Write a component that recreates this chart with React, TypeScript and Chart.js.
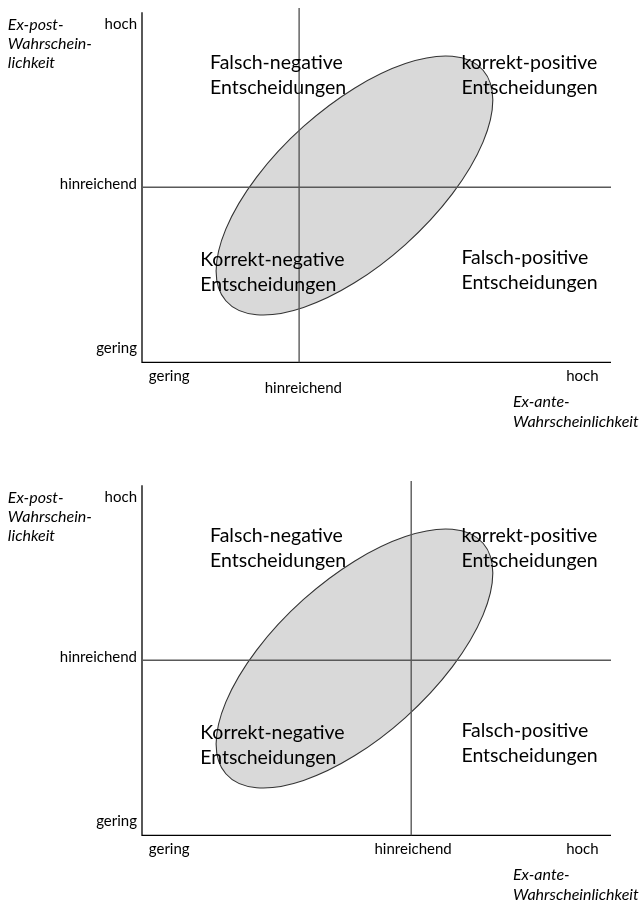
import React, { useEffect, useRef } from 'react';
import { Chart, registerables } from 'chart.js';

Chart.register(...registerables);

// ---- data (in diagram units: 0 = "gering", 10 = "hoch") ----
const AXIS_MIN = 0;
const AXIS_MAX = 10;
const PLOT_TOP = 10.12;
const THRESHOLD_X = [3.35, 5.74]; // Ex-ante "hinreichend" per panel
const THRESHOLD_Y = [5.0, 5.0]; // Ex-post "hinreichend" per panel

const Y_TICK_LABELS = ['gering', 'hinreichend', 'hoch'];
const Y_TICK_VALUES = [0.4, 5.1, 9.67];
const X_TICK_LABELS = ['gering', 'hinreichend', 'hoch'];
const X_TICK_VALUES_P1 = [0.58, 3.44, 9.39];
const X_TICK_VALUES_P2 = [0.58, 5.78, 9.39];
const X_TICK_ROWS_P1 = [-0.41, -0.73, -0.41];
const X_TICK_ROWS_P2 = [-0.41, -0.41, -0.41];

const Y_TITLE = ['Ex-post-', 'Wahrschein-', 'lichkeit'];
const Y_TITLE_ANCHOR = [-2.86, 9.64];
const X_TITLE = ['Ex-ante-', 'Wahrscheinlichkeit'];
const X_TITLE_ANCHOR = [7.91, -1.13];

const QUADRANT_LABELS = [
  ['Falsch-negative', 'Entscheidungen'],
  ['korrekt-positive', 'Entscheidungen'],
  ['Korrekt-negative', 'Entscheidungen'],
  ['Falsch-positive', 'Entscheidungen'],
];
const QUADRANT_ANCHORS = [
  [1.45, 8.55],
  [6.81, 8.55],
  [1.24, 2.92],
  [6.81, 2.98],
];

const ELLIPSE_CENTER = [4.53, 5.05];
const ELLIPSE_CONJ_A = [2.95, 2.44];
const ELLIPSE_CONJ_B = [0, 2.78];

const FONT = 'Lato, "Open Sans", sans-serif';

const diagramPlugin = {
  id: 'diagram',
  beforeDatasetsDraw(chart: any) {
    const { ctx } = chart;
    const xs = chart.scales.x;
    const ys = chart.scales.y;
    const cx = xs.getPixelForValue(ELLIPSE_CENTER[0]);
    const cy = ys.getPixelForValue(ELLIPSE_CENTER[1]);
    const ax = xs.getPixelForValue(ELLIPSE_CENTER[0] + ELLIPSE_CONJ_A[0]) - cx;
    const ay = ys.getPixelForValue(ELLIPSE_CENTER[1] + ELLIPSE_CONJ_A[1]) - cy;
    const bx = xs.getPixelForValue(ELLIPSE_CENTER[0] + ELLIPSE_CONJ_B[0]) - cx;
    const by = ys.getPixelForValue(ELLIPSE_CENTER[1] + ELLIPSE_CONJ_B[1]) - cy;
    ctx.save();
    ctx.transform(ax, ay, bx, by, cx, cy);
    ctx.beginPath();
    ctx.arc(0, 0, 1, 0, Math.PI * 2);
    ctx.restore();
    ctx.save();
    ctx.fillStyle = '#d9d9d9';
    ctx.fill();
    ctx.lineWidth = 1.1;
    ctx.strokeStyle = '#333333';
    ctx.stroke();
    ctx.restore();
  },
  afterDatasetsDraw(chart: any, _args: any, opts: any) {
    const { ctx } = chart;
    const xs = chart.scales.x;
    const ys = chart.scales.y;
    const px = (v: number) => xs.getPixelForValue(v);
    const py = (v: number) => ys.getPixelForValue(v);
    ctx.save();
    ctx.fillStyle = '#000';
    ctx.textBaseline = 'middle';

    // quadrant labels
    ctx.font = `19.5px ${FONT}`;
    ctx.textAlign = 'left';
    QUADRANT_LABELS.forEach((lines, i) => {
      const x = px(QUADRANT_ANCHORS[i][0]);
      const y = py(QUADRANT_ANCHORS[i][1]);
      lines.forEach((t, j) => ctx.fillText(t, x, y + j * 25));
    });

    // y tick labels
    ctx.font = `15px ${FONT}`;
    ctx.textAlign = 'right';
    Y_TICK_LABELS.forEach((t, i) => {
      ctx.fillText(t, px(AXIS_MIN) - 5, py(Y_TICK_VALUES[i]));
    });

    // x tick labels
    ctx.textAlign = 'center';
    X_TICK_LABELS.forEach((t, i) => {
      ctx.fillText(t, px(opts.xTicks[i]), py(opts.xRows[i]));
    });

    // axis titles
    ctx.font = `italic 16px ${FONT}`;
    ctx.textAlign = 'left';
    Y_TITLE.forEach((t, j) => {
      ctx.fillText(t, px(Y_TITLE_ANCHOR[0]), py(Y_TITLE_ANCHOR[1]) + j * 19);
    });
    X_TITLE.forEach((t, j) => {
      ctx.fillText(t, px(X_TITLE_ANCHOR[0]), py(X_TITLE_ANCHOR[1]) + j * 20);
    });
    ctx.restore();
  },
};

function Panel({ idx, height }: { idx: number; height: number }) {
  const ref = useRef<HTMLCanvasElement | null>(null);
  useEffect(() => {
    if (!ref.current) return;
    const tx = THRESHOLD_X[idx];
    const ty = THRESHOLD_Y[idx];
    const chart = new Chart(ref.current, {
      type: 'scatter',
      data: {
        datasets: [
          {
            data: [
              { x: AXIS_MIN, y: ty },
              { x: AXIS_MAX, y: ty },
            ],
            showLine: true,
            borderColor: '#595959',
            borderWidth: 1.4,
            pointRadius: 0,
            clip: false,
          } as any,
          {
            data: [
              { x: tx, y: AXIS_MIN },
              { x: tx, y: PLOT_TOP },
            ],
            showLine: true,
            borderColor: '#595959',
            borderWidth: 1.4,
            pointRadius: 0,
            clip: false,
          },
          {
            data: [
              { x: AXIS_MIN, y: AXIS_MAX },
              { x: AXIS_MIN, y: AXIS_MIN },
              { x: AXIS_MAX, y: AXIS_MIN },
            ],
            showLine: true,
            borderColor: '#000000',
            borderWidth: 1.3,
            pointRadius: 0,
            clip: false,
          },
        ],
      },
      options: {
        responsive: false,
        animation: false,
        events: [],
        layout: {
          padding: { left: 142, right: 30, top: 8, bottom: height - 362.3 },
        },
        scales: {
          x: { type: 'linear', min: AXIS_MIN, max: AXIS_MAX, display: false },
          y: { type: 'linear', min: AXIS_MIN, max: PLOT_TOP, display: false },
        },
        plugins: {
          legend: { display: false },
          tooltip: { enabled: false },
          diagram: {
            xTicks: idx === 0 ? X_TICK_VALUES_P1 : X_TICK_VALUES_P2,
            xRows: idx === 0 ? X_TICK_ROWS_P1 : X_TICK_ROWS_P2,
          },
        } as any,
      },
      plugins: [diagramPlugin],
    });
    return () => chart.destroy();
  }, [idx, height]);
  return <canvas ref={ref} width={641} height={height} style={{ display: 'block' }} />;
}

export default function App() {
  return (
    <div style={{ position: 'absolute', left: 0, top: 0, width: 641, height: 906, background: '#fff' }}>
      <Panel idx={0} height={473} />
      <Panel idx={1} height={433} />
    </div>
  );
}
